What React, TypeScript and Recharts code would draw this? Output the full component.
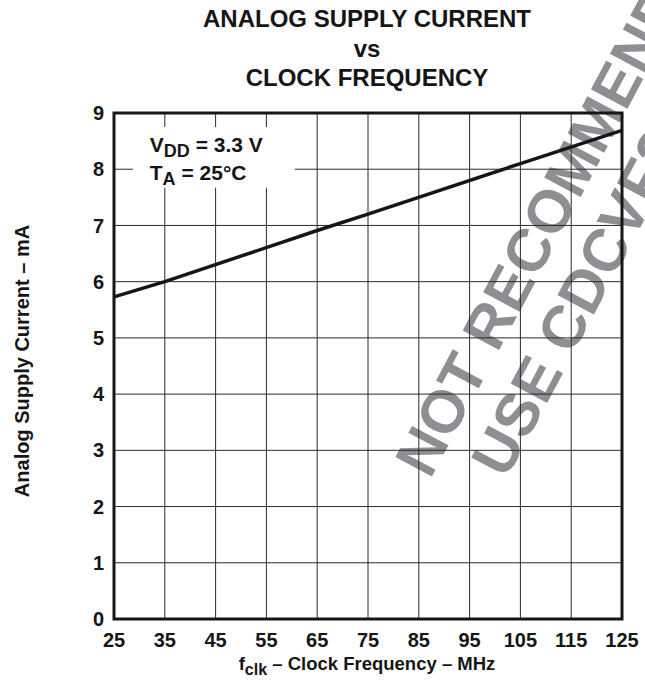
import { LineChart, Line, XAxis, YAxis, CartesianGrid, ReferenceArea } from 'recharts'

// values
const FREQ_MHZ = [25, 35, 65, 75, 105, 125]
const SUPPLY_MA = [5.73, 6.0, 6.91, 7.2, 8.1, 8.69]

const X_TICKS = [25, 35, 45, 55, 65, 75, 85, 95, 105, 115, 125]
const Y_TICKS = [0, 1, 2, 3, 4, 5, 6, 7, 8, 9]

const TITLE_LINES = ['ANALOG SUPPLY CURRENT', 'vs', 'CLOCK FREQUENCY']
const WATERMARK_LINES = ['NOT RECOMMENDED FOR NEW DESIGNS', 'USE CDCVF2505 AS A REPLACEMENT']

const FONT = '"Liberation Sans", Arial, Helvetica, sans-serif'
const INK = '#161616'

const chartData = FREQ_MHZ.map((f, i) => ({ f, mA: SUPPLY_MA[i] }))

// test conditions box, drawn inside the white reference area
function ConditionsLabel(props: any) {
  const vb = props.viewBox
  if (!vb) return null
  const x = vb.x + 17
  return (
    <g fontFamily={FONT} fontWeight="bold" fontSize={21} fill={INK}>
      <text x={x} y={vb.y + 25}>
        V<tspan fontSize={18} dy={5}>DD</tspan>
        <tspan dy={-5}> = 3.3 V</tspan>
      </text>
      <text x={x} y={vb.y + 53}>
        T<tspan fontSize={18} dy={5}>A</tspan>
        <tspan dy={-5}> = 25°C</tspan>
      </text>
    </g>
  )
}

export default function App() {
  const tickStyle = { fontSize: 20, fontWeight: 'bold', fill: INK, fontFamily: FONT }

  return (
    <div style={{ position: 'absolute', left: 0, top: 0, width: 645, height: 685, background: '#fff' }}>
      {/* titles, axis captions and the watermark sit behind the plot */}
      <svg width={645} height={685} style={{ position: 'absolute', left: 0, top: 0 }}>
        <g fontFamily={FONT} fontWeight="bold" fill="#8e8f93" fontSize={60}>
          <text transform="translate(430,480) rotate(-62)">{WATERMARK_LINES[0]}</text>
          <text transform="translate(506,480) rotate(-62)">{WATERMARK_LINES[1]}</text>
        </g>
        <g fontFamily={FONT} fontWeight="bold" fill={INK} textAnchor="middle">
          {TITLE_LINES.map((t, i) => (
            <text key={t} x={367} y={27 + i * 29.5} fontSize={24}>
              {t}
            </text>
          ))}
          <text transform="translate(29,361) rotate(-90)" fontSize={20}>
            Analog Supply Current – mA
          </text>
          <text x={367} y={670} fontSize={18.5}>
            f<tspan fontSize={16} dy={5}>clk</tspan>
            <tspan dy={-5}> – Clock Frequency – MHz</tspan>
          </text>
        </g>
      </svg>

      <div style={{ position: 'absolute', left: 0, top: 0 }}>
        <LineChart width={645} height={685} data={chartData} margin={{ top: 113, right: 23, bottom: 0, left: 0 }}>
          <CartesianGrid stroke="#2a2a2a" strokeWidth={1} />
          <XAxis
            dataKey="f"
            type="number"
            domain={[25, 125]}
            ticks={X_TICKS}
            interval={0}
            height={66}
            tickLine={false}
            axisLine={false}
            tickSize={0}
            tickMargin={14}
            tick={tickStyle}
          />
          <YAxis
            type="number"
            domain={[0, 9]}
            ticks={Y_TICKS}
            interval={0}
            width={114}
            tickLine={false}
            axisLine={false}
            tickSize={0}
            tickMargin={10}
            tick={tickStyle}
          />
          <ReferenceArea
            x1={28.7}
            x2={60.6}
            y1={7.67}
            y2={8.75}
            fill="#fff"
            fillOpacity={1}
            stroke="none"
            label={(p: any) => <ConditionsLabel {...p} />}
          />
          <ReferenceArea x1={25} x2={125} y1={0} y2={9} fill="none" stroke={INK} strokeWidth={3} />
          <Line
            type="linear"
            dataKey="mA"
            stroke={INK}
            strokeWidth={3.5}
            dot={false}
            isAnimationActive={false}
          />
        </LineChart>
      </div>
    </div>
  )
}
